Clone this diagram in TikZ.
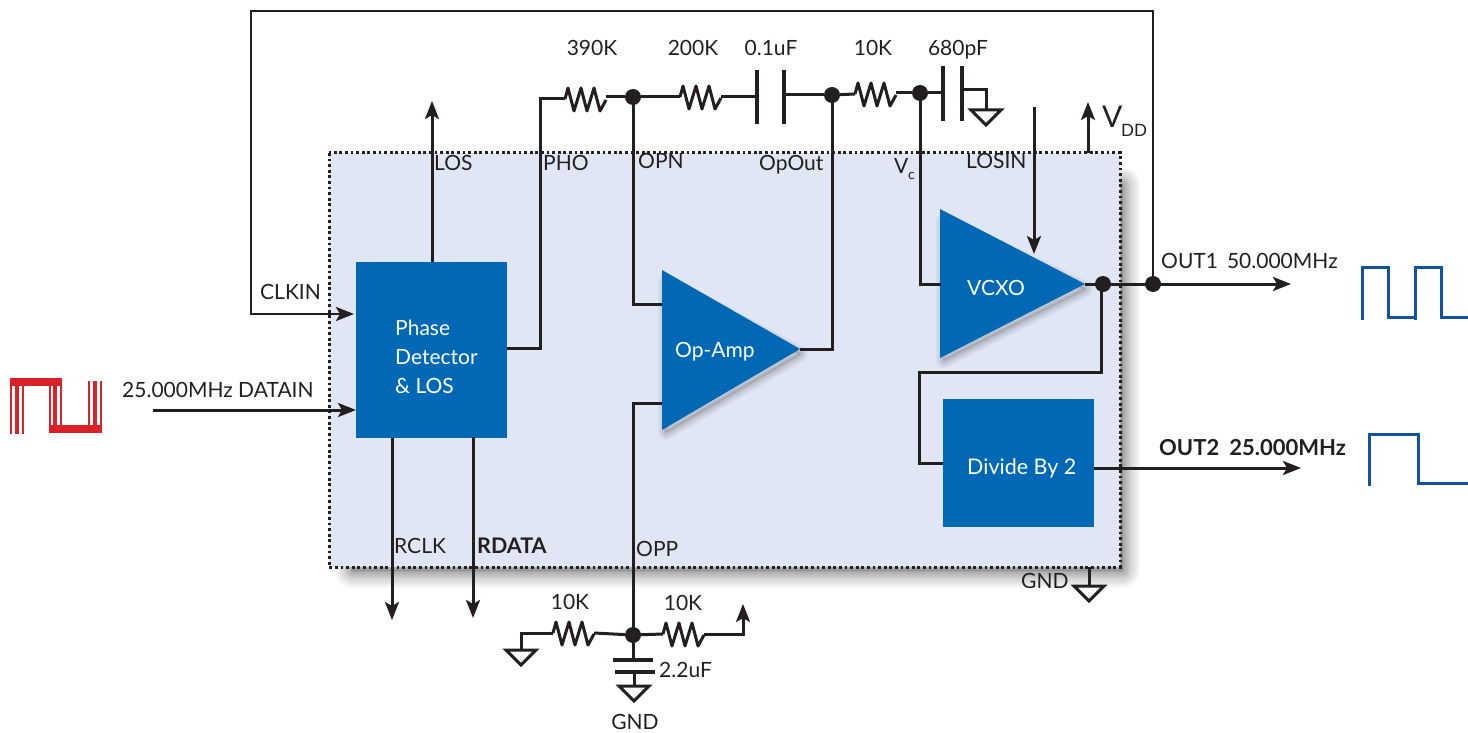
\documentclass[tikz,border=0pt]{standalone}
\usepackage{fontspec}
\setmainfont{Lato}
\usetikzlibrary{arrows.meta,calc}
\definecolor{ink}{HTML}{231F20}
\definecolor{chip}{HTML}{E0E6F4}
\definecolor{block}{HTML}{0068B5}
\definecolor{wave}{HTML}{1252A3}
\definecolor{redw}{HTML}{DA2128}
\tikzset{
 x=1pt,y=-1pt,
 wire/.style={draw=ink,line width=3pt,line join=miter},
 arrowwire/.style={wire,-{Stealth[length=18pt,width=14pt,inset=4pt]}},
 plate/.style={draw=ink,line width=3.2pt},
 dot/.style={circle,fill=ink,inner sep=0pt,minimum size=16pt},
 lbl/.style={anchor=base west,inner sep=0pt,text=ink,font=\fontsize{21}{25}\selectfont},
 clbl/.style={lbl,anchor=base},
 whitelbl/.style={lbl,text=white},
 boxblock/.style={fill=block,draw=none,minimum width=0pt,inner sep=0pt,anchor=north west},
 wavepath/.style={draw=wave,line width=3pt,line join=miter},
 redbar/.style={fill=redw,draw=none},
 pics/resistor/.style={code={\draw[wire,line join=round] (0,0) -- ++(3,-11) -- ++(6,23) -- ++(7,-23) -- ++(6,23) -- ++(7,-23) -- ++(6,23) -- ++(6,-11);}},
 pics/ground/.style={code={\draw[wire,line join=miter] (-15,0) -- (15,0) -- (0,15) -- cycle;}},
}
\begin{document}
\begin{tikzpicture}
\useasboundingbox (0,0) rectangle (1468,733);
% chip shadow
\foreach \k in {1,...,18}{
  \pgfmathsetmacro{\wd}{\k*\k/9}
  \draw[black,opacity=.032,line width=\wd pt,line join=round] (353,185) rectangle (1122,570);
}
\fill[chip] (329,153) rectangle (1120,567);
\draw[ink,line width=3pt,dash pattern=on 2.8pt off 2.8pt] (329,153) rectangle (1120,567);

% triangle shadows
\foreach \k in {1,...,8}{
  \pgfmathsetmacro{\wd}{\k*\k/4}
  \draw[black,opacity=.04,line width=\wd pt,line join=round] (666,282) -- (666,432) -- (800,354) -- cycle;
  \draw[black,opacity=.04,line width=\wd pt,line join=round] (944,221) -- (944,360) -- (1085,289) -- cycle;
}

% blocks
\node[boxblock,minimum width=151pt,minimum height=176pt] (pd) at (356,262) {};
\node[boxblock,minimum width=151pt,minimum height=128pt] (div) at (943,399) {};
\coordinate (oa1) at (662,270); \coordinate (oa2) at (662,430); \coordinate (oaOut) at (800,349);
\coordinate (vc1) at (940,209); \coordinate (vc2) at (940,358); \coordinate (vcOut) at (1085,284);
\fill[block] (oa1) -- (oa2) -- (oaOut) -- cycle;
\fill[block] (vc1) -- (vc2) -- (vcOut) -- cycle;

% junction and anchor points
\node[dot] (jOPN) at (633,97) {};
\node[dot] (jOpOut) at (832,95) {};
\node[dot] (jVc) at (920,93) {};
\node[dot] (jSplit) at (1103,284) {};
\node[dot] (jOut) at (1153,284) {};
\node[dot] (jOPP) at (633,635) {};

\coordinate (r1a) at (565,99); \coordinate (r1b) at (606,97);
\coordinate (r2a) at (680,97); \coordinate (r2b) at (721,97);
\coordinate (r3a) at (855,94); \coordinate (r3b) at (896,93);
\coordinate (r4a) at (553,633); \coordinate (r4b) at (594,633);
\coordinate (r5a) at (663,634); \coordinate (r5b) at (704,634);
\pic at (r1a) {resistor}; \pic at (r2a) {resistor}; \pic at (r3a) {resistor};
\pic at (r4a) {resistor}; \pic at (r5a) {resistor};

% capacitors
\coordinate (c1a) at (757,97); \coordinate (c1b) at (784,95);
\draw[plate] (757,70) -- (757,124); \draw[plate] (784,70) -- (784,124);
\coordinate (c2a) at (943,93); \coordinate (c2b) at (962,90);
\draw[plate] (943,66) -- (943,121); \draw[plate] (962,66) -- (962,121);
\coordinate (c3a) at (633,660); \coordinate (c3b) at (634,672);
\draw[plate] (613,660) -- (653,660); \draw[plate] (615,672) -- (655,672);

% grounds
\coordinate (g1) at (986,110); \coordinate (g2) at (1089,586);
\coordinate (g3) at (521,650); \coordinate (g4) at (634,686);
\pic at (g1) {ground}; \pic at (g2) {ground}; \pic at (g3) {ground}; \pic at (g4) {ground};

% free ends
\coordinate (topL) at (251,11); \coordinate (topR) at (1153,11);
\coordinate (clkC) at (251,314); \coordinate (clkEnd) at (354,314);
\coordinate (dataS) at (153,410); \coordinate (dataEnd) at (356,410);
\coordinate (pdOutY) at (507,348); \coordinate (phoX) at (540,348);
\coordinate (losS) at (432,262); \coordinate (losE) at (432,101);
\coordinate (rclkS) at (392,438); \coordinate (rclkE) at (392,620);
\coordinate (rdS) at (473,437); \coordinate (rdE) at (473,618);
\coordinate (opnIn) at (662,304); \coordinate (oppIn) at (662,403);
\coordinate (vcIn) at (941,284);
\coordinate (losinS) at (1034,107); \coordinate (losinE) at (1034,254);
\coordinate (vddS) at (1088,153); \coordinate (vddE) at (1088,102);
\coordinate (out1E) at (1291,284);
\coordinate (div1) at (1101,372); \coordinate (div2) at (919,372); \coordinate (divIn) at (943,463);
\coordinate (out2S) at (1094,468); \coordinate (out2E) at (1301,468);
\coordinate (chipGnd) at (1089,567);
\coordinate (vccE) at (743,604); \coordinate (vccC) at (743,634);

% connectors
\draw[arrowwire,line width=2.6pt] (jOut.center) -- (topR) -- (topL) -- (clkC) -- (clkEnd);
\draw[arrowwire] (dataS) -- (dataEnd);
\draw[arrowwire] (losS) -- (losE);
\draw[arrowwire] (rclkS) -- (rclkE);
\draw[arrowwire] (rdS) -- (rdE);
\draw[wire] (pdOutY) -- (phoX) -- (phoX |- r1a) -- (r1a);
\draw[wire] (r1b) -- (jOPN);
\draw[wire] (jOPN) -- (r2a);
\draw[wire] (r2b) -- (c1a);
\draw[wire] (c1b) -- (jOpOut);
\draw[wire] (jOpOut) -- (r3a);
\draw[wire] (r3b) -- (jVc);
\draw[wire] (jVc) -- (c2a);
\draw[wire] (c2b) -- (c2b -| g1) -- (g1);
\draw[wire] (jOPN.center) -- (jOPN.center |- opnIn) -- (opnIn);
\draw[wire] (oaOut) -- (oaOut -| jOpOut) -- (jOpOut.center);
\draw[wire] (oppIn) -- (oppIn -| jOPP) -- (jOPP.center);
\draw[wire] (jVc.center) -- (jVc.center |- vcIn) -- (vcIn);
\draw[arrowwire] (losinS) -- (losinE);
\draw[arrowwire] (vddS) -- (vddE);
\draw[arrowwire] (vcOut) -- (out1E);
\draw[wire] (div1 |- jSplit) -- (div1) -- (div2) -- (div2 |- divIn) -- (divIn);
\draw[arrowwire] (out2S) -- (out2E);
\draw[wire] (chipGnd) -- (g2);
\draw[wire] (g3) -- (g3 |- r4a) -- (r4a);
\draw[wire] (r4b) -- (jOPP);
\draw[wire] (jOPP) -- (r5a);
\draw[arrowwire] (r5b) -- (vccC) -- (vccE);
\draw[wire] (jOPP) -- (c3a);
\draw[wire] (c3b) -- (g4);

% waveforms
\draw[wavepath] (1362,320) -- (1362,267) -- (1388,267) -- (1388,317) -- (1415,317);
\draw[wavepath] (1415,320) -- (1415,267) -- (1441,267) -- (1441,317) -- (1468,317);
\draw[wavepath] (1369,486) -- (1369,434) -- (1418,434) -- (1418,483) -- (1468,483);
\fill[redbar] (10,378) rectangle (62,385.5);
\fill[redbar] (49,425) rectangle (102,433);
\foreach \a/\b in {10/12,15.3/19,22/24}{\fill[redbar] (\a,378) rectangle (\b,434);}
\foreach \a/\b in {49/51,52.7/57,60/62}{\fill[redbar] (\a,378) rectangle (\b,433);}
\foreach \a/\b in {88/90,93/97,100/102}{\fill[redbar] (\a,381) rectangle (\b,433);}

% labels
\node[clbl] (t390) at (592,56) {390K};
\node[clbl] (t200) at (693,56) {200K};
\node[clbl] (t01) at (771,56) {0.1uF};
\node[clbl] (t10a) at (873,56) {10K};
\node[clbl] (t680) at (958,56) {680pF};
\node[lbl] (tLOS) at (434,171) {LOS};
\node[lbl] (tPHO) at (543,171) {PHO};
\node[lbl] (tOPN) at (638,168) {OPN};
\node[lbl] (tOpOut) at (759,171) {OpOut};
\node[lbl] (tV) at (894,174) {V};
\node[lbl,font=\fontsize{14}{16}\selectfont] (tVc) at (908,180) {c};
\node[lbl] (tLOSIN) at (966,168) {LOSIN};
\node[lbl,font=\fontsize{30}{34}\selectfont] (tVDD) at (1102,128) {V};
\node[lbl,font=\fontsize{17}{20}\selectfont] (tDD) at (1121,137) {DD};
\node[lbl] (tCLK) at (260,299) {CLKIN};
\node[lbl] (tDATA) at (122,397) {25.000MHz DATAIN};
\node[whitelbl] (tP1) at (395,335) {Phase};
\node[whitelbl] (tP2) at (395,364) {Detector};
\node[whitelbl] (tP3) at (395,393) {\& LOS};
\node[whitelbl] (tOA) at (675,357) {Op-Amp};
\node[whitelbl] (tVCXO) at (967,295) {VCXO};
\node[whitelbl,font=\fontsize{21.5}{25}\selectfont] (tDIV) at (967,474) {Divide By 2};
\node[lbl] (tO1) at (1161,268) {OUT1\hspace{9pt}50.000MHz};
\node[lbl,font=\fontsize{22}{26}\selectfont\bfseries] (tO2) at (1159,455) {OUT2\hspace{10pt}25.000MHz};
\node[lbl] (tRCLK) at (394,553) {RCLK};
\node[lbl,font=\fontsize{21.5}{25}\selectfont\bfseries] (tRD) at (477,553) {RDATA};
\node[lbl] (tOPP) at (636,556) {OPP};
\node[lbl] (tGND1) at (1021,588) {GND};
\node[clbl] (t10b) at (570,609) {10K};
\node[clbl] (t10c) at (683,610) {10K};
\node[lbl] (t22) at (659,677) {2.2uF};
\node[clbl] (tGND2) at (635,729) {GND};
\end{tikzpicture}
\end{document}
